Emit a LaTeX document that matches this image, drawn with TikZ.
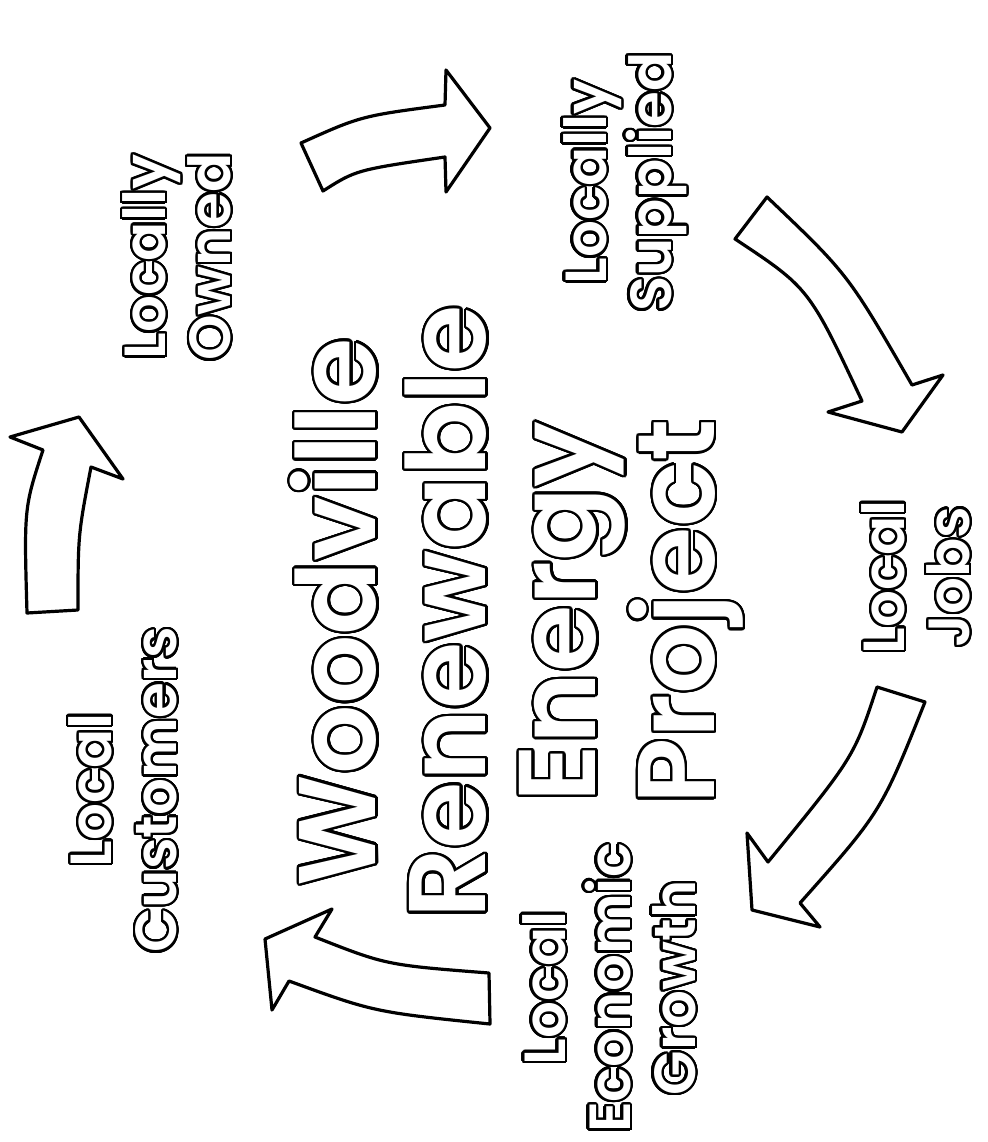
\documentclass[tikz,border=0pt]{standalone}
\usepackage{fontspec}
\setmainfont{Poppins}[BoldFont={Poppins SemiBold}]
\usepackage{contour}
\contourlength{2.4pt}
\contournumber{32}
\usepackage{tikz}
\newcommand{\olt}[1]{\contour{black}{#1}}

\begin{document}
\begin{tikzpicture}[x=1pt,y=-1pt,
  lbl/.style={rotate=90,align=center,text=white,inner sep=0pt,font=\fontsize{58}{65}\selectfont\bfseries},
  ttl/.style={rotate=90,align=center,text=white,inner sep=0pt,font=\fontsize{109}{110}\selectfont\bfseries},
  blk/.style={draw=black,fill=white,line width=3.2pt,line join=round}]
  \useasboundingbox (0,0) rectangle (987,1142);
  \node[ttl] (project) at (518,612) {\olt{Woodville}\\\olt{Renewable}\\\olt{Energy}\\\olt{Project}};
  \node[lbl] (owned) at (178,257) {\olt{Locally}\\\olt{Owned}};
  \node[lbl] (supplied) at (626,182) {\olt{Locally}\\\olt{Supplied}};
  \node[lbl] (jobs) at (917,577) {\olt{Local}\\\olt{Jobs}};
  \node[lbl] (growth) at (610,988) {\olt{Local}\\\olt{Economic}\\\olt{Growth}};
  \node[lbl] (customers) at (124,790) {\olt{Local}\\\olt{Customers}};
  \draw[blk] (301,143) .. controls (361,116) .. (445,105) -- (446,70) -- (490,128)
    -- (446,192) -- (445,157) .. controls (356,170) .. (323,191) -- cycle;
  \draw[blk] (767,197) .. controls (848,274) .. (912,385) -- (943,375) -- (902,432)
    -- (828,412) -- (862,401) .. controls (809,288) .. (735,239) -- cycle;
  \draw[blk] (877,687) .. controls (854,757) .. (768,862) -- (747,833) -- (752,910)
    -- (820,927) -- (800,903) .. controls (881,812) .. (925,702) -- cycle;
  \draw[blk] (489,973) .. controls (386,965) .. (315,937) -- (332,909) -- (265,939)
    -- (272,1010) -- (289,981) .. controls (374,1012) .. (490,1024) -- cycle;
  \draw[blk] (27,613) .. controls (24,508) .. (43,450) -- (10,437) -- (79,417)
    -- (123,479) -- (91,467) .. controls (78,535) .. (78,610) -- cycle;
\end{tikzpicture}
\end{document}
